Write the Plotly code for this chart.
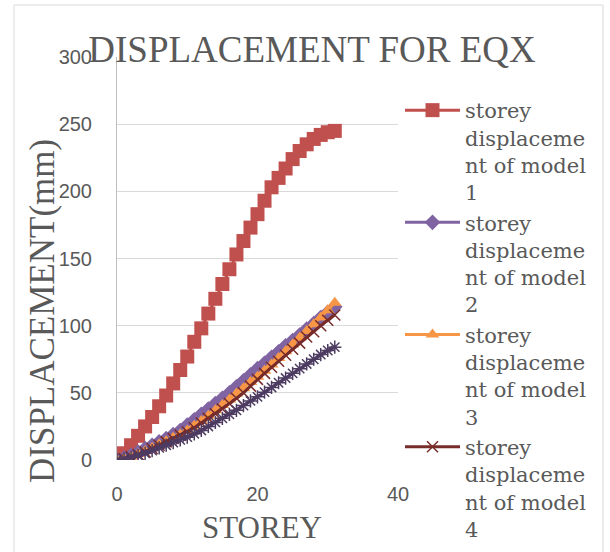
import plotly.graph_objects as go

storey = list(range(0, 32))

model1 = [0, 5, 11, 18, 25, 32, 40, 48, 57, 67, 77, 88, 98, 109, 120, 131,
          142, 153, 163, 173, 183, 193, 203, 210, 217, 224, 230, 235, 239, 242, 244, 245]
model2 = [0, 1.5, 3.5, 6, 8.5, 11, 13.5, 16, 19, 22, 26, 30, 34, 38, 42, 46,
          50, 54.5, 59, 63.5, 68, 72, 76.5, 80.5, 85, 89, 93, 97.5, 101.5, 106, 110, 114]
model3 = [0, 1, 2.5, 4.5, 6.5, 9, 11.5, 14, 16.5, 19, 22, 25.5, 29, 33, 37, 41,
          45, 49.5, 53.5, 58, 62, 66.5, 71, 76, 81, 86, 91, 96, 101, 106, 111.5, 117]
model4 = [0, 1, 2.5, 4, 6, 8.5, 11, 13.5, 16, 18.5, 21, 24, 27.5, 31, 34.5, 38,
          42, 46, 50, 55, 60, 64.5, 69, 73.5, 78, 82.5, 87, 91.5, 95.5, 100, 104, 108]
model5 = [0, 0.8, 2, 3.5, 5, 7, 9, 11, 13, 15, 17, 19.5, 22, 25, 28, 31,
          34, 37, 40.5, 44, 47, 50.5, 54, 57.5, 61, 64.5, 68, 71.5, 75, 78.5, 81.5, 84]

names = ["storey<br>displaceme<br>nt of model<br>1",
         "storey<br>displaceme<br>nt of model<br>2",
         "storey<br>displaceme<br>nt of model<br>3",
         "storey<br>displaceme<br>nt of model<br>4",
         "storey<br>displaceme<br>nt of model<br>5"]

y_ticks = [0, 50, 100, 150, 200, 250, 300]
x_ticks = [0, 20, 40]

fig = go.Figure()
fig.add_trace(go.Scatter(x=storey, y=model1, name=names[0], mode="lines+markers",
                         line=dict(color="#C0504D", width=3),
                         marker=dict(symbol="square", size=14, color="#C0504D")))
fig.add_trace(go.Scatter(x=storey, y=model2, name=names[1], mode="lines+markers",
                         line=dict(color="#8064A2", width=3),
                         marker=dict(symbol="diamond", size=12, color="#8064A2")))
fig.add_trace(go.Scatter(x=storey, y=model3, name=names[2], mode="lines+markers",
                         line=dict(color="#F79646", width=3),
                         marker=dict(symbol="triangle-up", size=12, color="#F79646")))
fig.add_trace(go.Scatter(x=storey, y=model4, name=names[3], mode="lines+markers",
                         line=dict(color="#772C2A", width=3),
                         marker=dict(symbol="x-thin-open", size=11, color="#772C2A",
                                     line=dict(color="#772C2A", width=1.5))))
fig.add_trace(go.Scatter(x=storey, y=model5, name=names[4], mode="lines+markers",
                         showlegend=False,
                         line=dict(color="#4D3B62", width=3),
                         marker=dict(symbol="asterisk-open", size=11, color="#4D3B62",
                                     line=dict(color="#4D3B62", width=1.5))))

L, R, T, B = 117, 212, 57, 92
W, H = 610, 552
pw, ph = W - L - R, H - T - B

def px(xp):
    return (xp - L) / pw

def py(yp):
    return (H - B - yp) / ph

fig.update_layout(
    width=W, height=H,
    margin=dict(l=L, r=R, t=T, b=B, autoexpand=False),
    paper_bgcolor="white", plot_bgcolor="white",
    font=dict(family="Liberation Serif", color="#595959"),
    title=dict(text="DISPLACEMENT FOR EQX", font=dict(family="Liberation Serif", size=37, color="#595959"),
               x=px(312), xref="paper", xanchor="center",
               y=1 - 62 / H, yref="container", yanchor="bottom"),
    xaxis=dict(range=[0, 40], tickvals=x_ticks, showgrid=False, zeroline=False,
               showline=False, ticks="", ticklabelstandoff=20,
               tickfont=dict(family="Liberation Sans", size=20, color="#595959")),
    yaxis=dict(range=[0, 300], tickvals=y_ticks, showgrid=True, gridcolor="#D9D9D9", gridwidth=1,
               zeroline=False, showline=True, linecolor="#BFBFBF", linewidth=1, ticks="",
               ticklabelstandoff=20,
               tickfont=dict(family="Liberation Sans", size=20, color="#595959")),
    legend=dict(x=px(400), xanchor="left", y=py(90), yanchor="top",
                font=dict(family="DejaVu Serif", size=21, color="#595959"),
                valign="top", itemwidth=55, tracegroupgap=0, bgcolor="rgba(0,0,0,0)",
                maxheight=2000),
    annotations=[dict(text="DISPLACEMENT(mm)", textangle=-90, xref="paper", yref="paper",
                      x=px(42), y=py(311), xanchor="center", yanchor="middle", showarrow=False,
                      font=dict(family="Liberation Serif", size=35, color="#595959")),
                 dict(text="STOREY", xref="paper", yref="paper",
                      x=px(262), y=py(527), xanchor="center", yanchor="middle", showarrow=False,
                      font=dict(family="Liberation Serif", size=31, color="#595959"))],
    shapes=[dict(type="rect", xref="paper", yref="paper",
                 x0=px(14), x1=px(603), y0=py(560), y1=py(5),
                 line=dict(color="#D9D9D9", width=1), fillcolor="rgba(0,0,0,0)", layer="below")],
)

fig.write_html("out.html", config=dict(displayModeBar=False),
               post_script="document.body.style.margin='0px';document.body.style.overflow='hidden';")
